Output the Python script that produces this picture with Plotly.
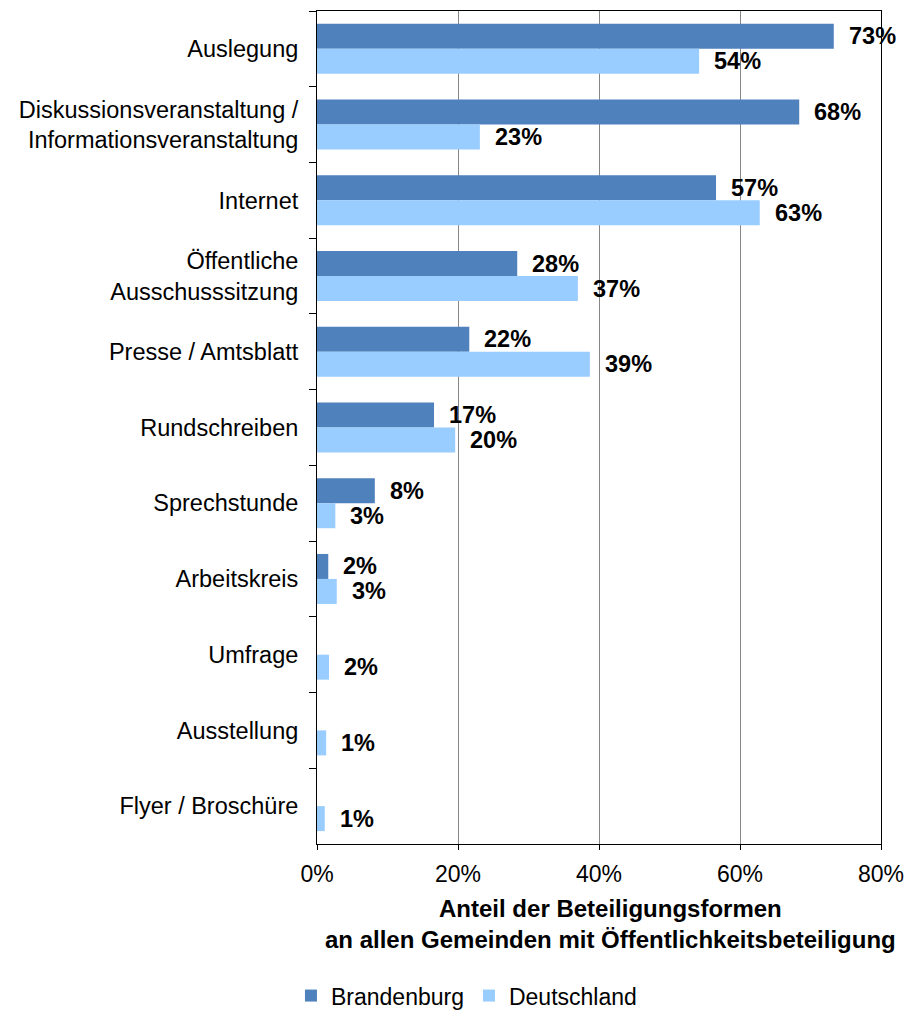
import plotly.graph_objects as go

categories = [
    "Auslegung",
    "Diskussionsveranstaltung /<br>Informationsveranstaltung",
    "Internet",
    "Öffentliche<br>Ausschusssitzung",
    "Presse / Amtsblatt",
    "Rundschreiben",
    "Sprechstunde",
    "Arbeitskreis",
    "Umfrage",
    "Ausstellung",
    "Flyer / Broschüre",
]
brandenburg = [73.3, 68.4, 56.6, 28.4, 21.6, 16.6, 8.2, 1.6, 0, 0, 0]
deutschland = [54.2, 23.1, 62.8, 37.0, 38.7, 19.6, 2.6, 2.8, 1.7, 1.3, 1.1]
x_ticks = [0, 20, 40, 60, 80]
x_ticklabels = ["0%", "20%", "40%", "60%", "80%"]
x_title = "<b>Anteil der Beteiligungsformen<br>an allen Gemeinden mit Öffentlichkeitsbeteiligung</b>"

FONT = "Arial, 'Liberation Sans', sans-serif"
C_B = "#4F81BD"
C_D = "#99CCFF"

fig = go.Figure()
fig.add_trace(go.Bar(name="Brandenburg", y=categories, x=brandenburg, orientation="h",
                     marker=dict(color=C_B, line=dict(width=0))))
fig.add_trace(go.Bar(name="Deutschland", y=categories, x=deutschland, orientation="h",
                     marker=dict(color=C_D, line=dict(width=0))))

annotations = []
for cat, v in zip(categories, brandenburg):
    if v > 0:
        annotations.append(dict(x=v, y=cat, text=f"<b>{round(v)}%</b>", showarrow=False,
                                xanchor="left", yanchor="middle", xshift=13, yshift=12.5,
                                font=dict(family=FONT, size=23.5, color="#000")))
for cat, v in zip(categories, deutschland):
    if v > 0:
        annotations.append(dict(x=v, y=cat, text=f"<b>{round(v)}%</b>", showarrow=False,
                                xanchor="left", yanchor="middle", xshift=13, yshift=-12.5,
                                font=dict(family=FONT, size=23.5, color="#000")))
# axis title (placed as annotation to match the original's horizontal offset)
annotations.append(dict(x=0.52, y=-0.0966, xref="paper", yref="paper", text=x_title,
                        showarrow=False, xanchor="center", yanchor="middle",
                        font=dict(family=FONT, size=24, color="#000")))

fig.update_layout(
    width=905, height=1013,
    margin=dict(l=317, r=24, t=11, b=169, autoexpand=False),
    paper_bgcolor="white", plot_bgcolor="white",
    barmode="group", bargap=0.34, bargroupgap=0,
    font=dict(family=FONT, size=23, color="#000"),
    showlegend=True,
    legend=dict(orientation="h", x=0.265, xanchor="center", y=-0.182, yanchor="middle",
                font=dict(family=FONT, size=23, color="#000"), traceorder="normal",
                itemwidth=30),
    annotations=annotations,
)
fig.update_xaxes(
    range=[0, 80], tickvals=x_ticks, ticktext=x_ticklabels,
    showgrid=True, gridcolor="#868686", gridwidth=1,
    showline=True, linecolor="#000", linewidth=1, mirror=True,
    ticks="outside", ticklen=5, tickcolor="#000",
    tickfont=dict(family=FONT, size=23, color="#000"),
    ticklabelstandoff=4,
    zeroline=False, automargin=False,
)
fig.update_yaxes(
    autorange="reversed", type="category",
    showline=True, linecolor="#000", linewidth=1, mirror=True,
    ticks="outside", ticklen=7, tickcolor="#000", tickson="boundaries",
    tickfont=dict(family=FONT, size=23.5, color="#000"),
    ticklabelstandoff=13, automargin=False,
    showgrid=False,
)

fig.write_html("out.html")
